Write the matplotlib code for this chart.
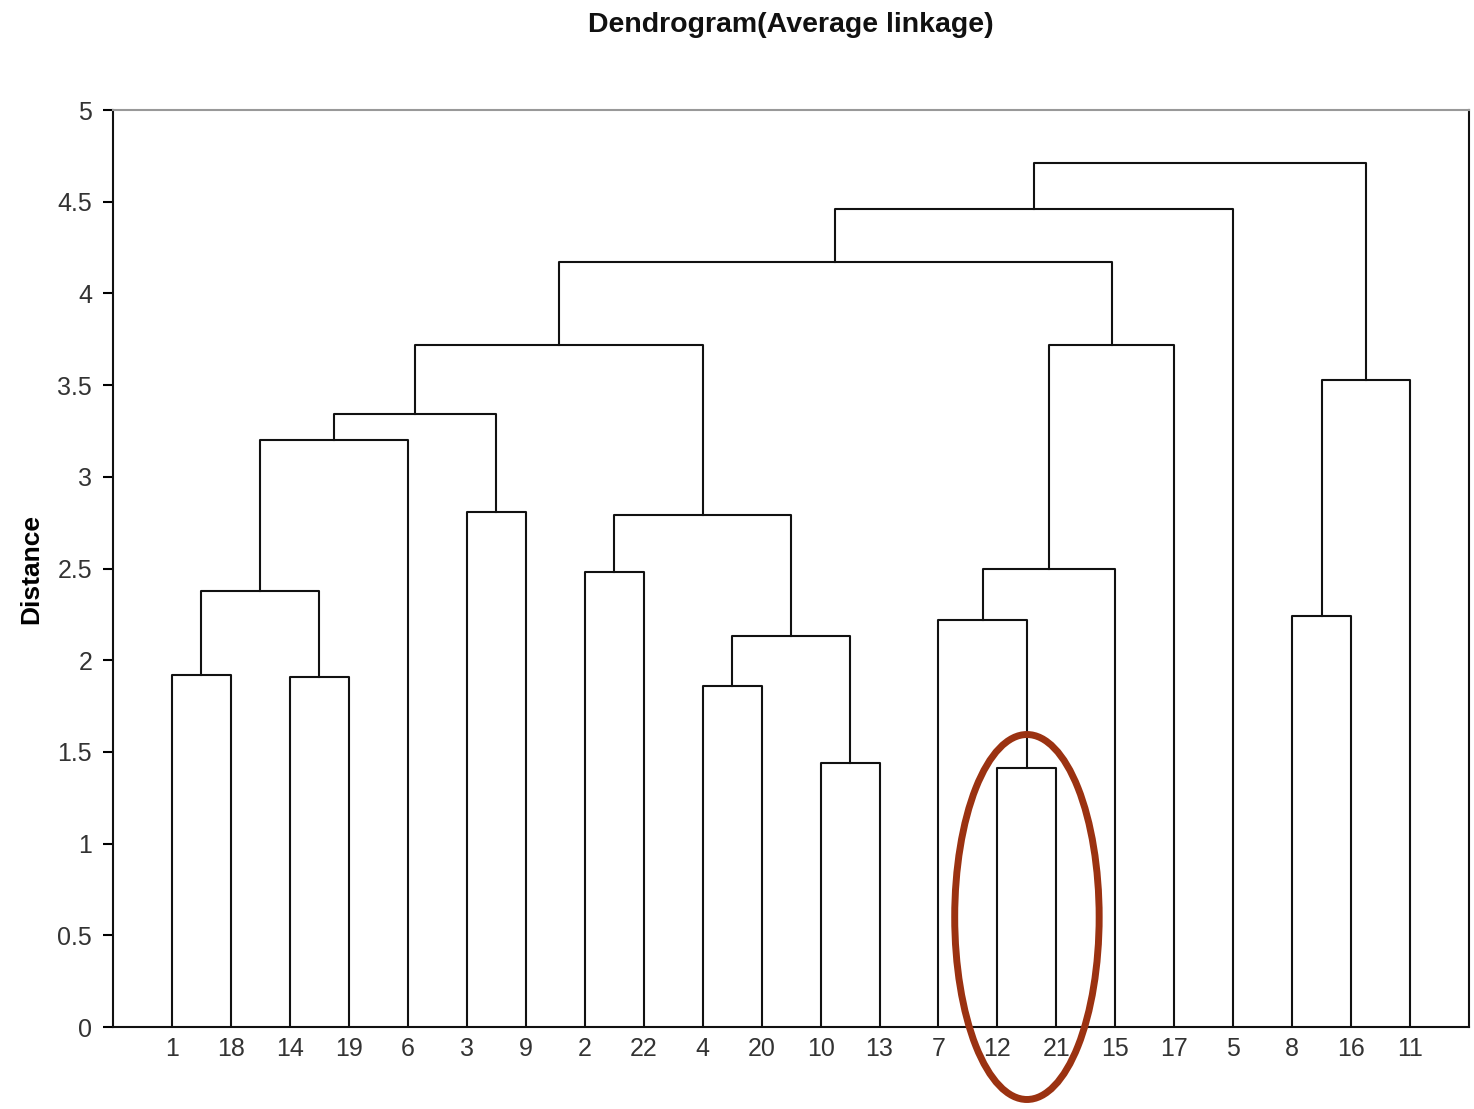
#! /usr/bin/env python3

import matplotlib
matplotlib.use("Agg")
import matplotlib.pyplot as plt
from matplotlib.patches import Ellipse

plt.rcParams["font.family"] = ["Liberation Sans", "DejaVu Sans"]

# leaf order along the x axis
leaves = ["1", "18", "14", "19", "6", "3", "9", "2", "22", "4", "20",
          "10", "13", "7", "12", "21", "15", "17", "5", "8", "16", "11"]

# merges: (left cluster, right cluster, distance, new cluster name)
# clusters are leaf labels or names of earlier merges
merges = [
    ("1", "18", 1.92, "a"),
    ("14", "19", 1.91, "b"),
    ("a", "b", 2.38, "c"),
    ("c", "6", 3.20, "d"),
    ("3", "9", 2.81, "e"),
    ("d", "e", 3.34, "f"),
    ("2", "22", 2.48, "g"),
    ("4", "20", 1.86, "h"),
    ("10", "13", 1.44, "i"),
    ("h", "i", 2.13, "j"),
    ("g", "j", 2.79, "k"),
    ("f", "k", 3.72, "l"),
    ("12", "21", 1.41, "m"),
    ("7", "m", 2.22, "n"),
    ("n", "15", 2.50, "o"),
    ("o", "17", 3.72, "p"),
    ("l", "p", 4.17, "q"),
    ("q", "5", 4.46, "r"),
    ("8", "16", 2.24, "s"),
    ("s", "11", 3.53, "t"),
    ("r", "t", 4.71, "u"),
]

yticks = [0, 0.5, 1, 1.5, 2, 2.5, 3, 3.5, 4, 4.5, 5]
ytick_labels = ["0", "0.5", "1", "1.5", "2", "2.5", "3", "3.5", "4", "4.5", "5"]

fig = plt.figure(figsize=(14.74, 11.09), dpi=100)
ax = fig.add_axes([0.0767, 0.0739, 0.92, 0.8269])

# x position and height of each cluster
pos = {name: i + 1 for i, name in enumerate(leaves)}
height = {name: 0.0 for name in leaves}

line_kw = dict(color="#111111", linewidth=1.5, solid_capstyle="projecting")
for left, right, dist, name in merges:
    xl, xr = pos[left], pos[right]
    ax.plot([xl, xl, xr, xr], [height[left], dist, dist, height[right]], **line_kw)
    pos[name] = (xl + xr) / 2.0
    height[name] = dist

# highlight the 12-21 cluster
ell = Ellipse(((pos["12"] + pos["21"]) / 2.0, 0.60), width=2.45, height=1.99,
              fill=False, edgecolor="#9b3211", linewidth=5, clip_on=False, zorder=5)
ax.add_patch(ell)

ax.set_xlim(0, len(leaves) + 1)
ax.set_ylim(0, 5)
ax.set_xticks(range(1, len(leaves) + 1))
ax.set_xticklabels(leaves, fontsize=18, color="#333333")
ax.set_yticks(yticks)
ax.set_yticklabels(ytick_labels, fontsize=18, color="#333333")
ax.tick_params(axis="x", length=0, pad=7)
ax.tick_params(axis="y", direction="out", length=7, width=1.5, pad=8)

for side in ["left", "bottom", "right"]:
    ax.spines[side].set_linewidth(1.5)
    ax.spines[side].set_color("#111111")
ax.spines["top"].set_color("#999999")
ax.spines["top"].set_linewidth(1.5)

ax.set_ylabel("Distance", fontsize=19, fontweight="bold", labelpad=10)
ax.set_title("Dendrogram(Average linkage)", fontsize=20.5, fontweight="bold",
             pad=56, color="#111111")

fig.savefig("out.png", dpi=100)
